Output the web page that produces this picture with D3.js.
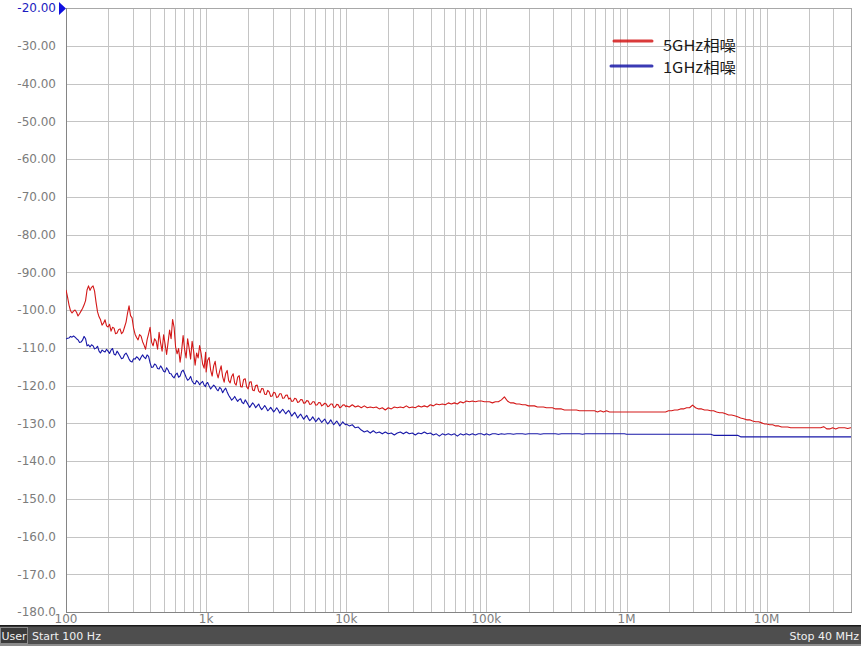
<!DOCTYPE html>
<html><head><meta charset="utf-8">
<script src="https://cdn.jsdelivr.net/npm/d3@7"></script>
<style>html,body{margin:0;padding:0;background:#fff;overflow:hidden}</style>
</head><body>
<svg id="c" width="861" height="646"></svg>
<script>
// ---- data (sweep frequencies in Hz, phase noise in dBc/Hz) ----
const freqDec0 = [100,102.5,105.1,107.7,110.4,113.2,116,118.9,121.8,124.9,
  128,131.2,134.5,137.9,141.3,144.8,148.4,152.1,156,159.9,
  163.8,167.9,172.1,176.4,180.8,185.3,190,194.7,199.5,204.5,
  209.6,214.8,220.3,225.8,231.4,237.2,243.1,249.2,255.4,261.8,
  268.3,275,281.8,288.8,296.1,303.5,311.1,318.9,326.8,335,
  343.4,352,360.7,369.7,379,388.5,398.1,408,418.3,428.8,
  439.4,450.4,461.7,473.2,485,497.1,509.6,522.3,535.3,548.7,
  562.3,576.3,590.8,605.6,620.7,636.2,652,668.3,685,702.1,
  719.7,737.7,756.1,775,794.3,814.1,834.5,855.3,876.7,898.6,
  921,944,967.6,991.8];
const freqDec1 = [1000,1025,1051,1077,1104,1132,1160,1189,1218,1249,
  1280,1312,1345,1379,1413,1448,1484,1521,1560,1599,
  1638,1679,1721,1764,1808,1853,1900,1947,1995,2045,
  2096,2148,2203,2258,2314,2372,2431,2492,2554,2618,
  2683,2750,2818,2888,2961,3035,3111,3189,3268,3350,
  3434,3520,3607,3697,3790,3885,3981,4080,4183,4288,
  4394,4504,4617,4732,4850,4971,5096,5223,5353,5487,
  5623,5763,5908,6056,6207,6362,6520,6683,6850,7021,
  7197,7377,7561,7750,7943,8141,8345,8553,8767,8986,
  9210,9440,9676,9918];
const freqDec2 = [1e4,1.051e4,1.104e4,1.160e4,1.218e4,1.280e4,1.345e4,1.413e4,1.484e4,1.560e4,1.638e4,1.721e4,1.808e4,1.900e4,1.995e4,2.096e4,2.203e4,2.314e4,2.431e4,2.554e4,2.683e4,2.818e4,2.961e4,3.111e4,3.268e4,3.434e4,3.607e4,3.790e4,3.981e4,4.183e4,4.394e4,4.617e4,4.850e4,5.096e4,5.353e4,5.623e4,5.908e4,6.207e4,6.520e4,6.850e4,7.197e4,7.561e4,7.943e4,8.345e4,8.767e4,9.210e4,9.676e4];
const freqDec3 = [1e5,1.051e5,1.104e5,1.160e5,1.218e5,1.280e5,1.345e5,1.413e5,1.484e5,1.560e5,1.638e5,1.721e5,1.808e5,1.900e5,1.995e5,2.096e5,2.203e5,2.314e5,2.431e5,2.554e5,2.683e5,2.818e5,2.961e5,3.111e5,3.268e5,3.434e5,3.607e5,3.790e5,3.981e5,4.183e5,4.394e5,4.617e5,4.850e5,5.096e5,5.353e5,5.623e5,5.908e5,6.207e5,6.520e5,6.850e5,7.197e5,7.561e5,7.943e5,8.345e5,8.767e5,9.210e5,9.676e5];
const freqDec4 = [1e6,1.051e6,1.104e6,1.160e6,1.218e6,1.280e6,1.345e6,1.413e6,1.484e6,1.560e6,1.638e6,1.721e6,1.808e6,1.900e6,1.995e6,2.096e6,2.203e6,2.314e6,2.431e6,2.554e6,2.683e6,2.818e6,2.961e6,3.111e6,3.268e6,3.434e6,3.607e6,3.790e6,3.981e6,4.183e6,4.394e6,4.617e6,4.850e6,5.096e6,5.353e6,5.623e6,5.908e6,6.207e6,6.520e6,6.850e6,7.197e6,7.561e6,7.943e6,8.345e6,8.767e6,9.210e6,9.676e6];
const freqDec5 = [1e7,1.051e7,1.104e7,1.160e7,1.218e7,1.280e7,1.345e7,1.413e7,1.484e7,1.560e7,1.638e7,1.721e7,1.808e7,1.900e7,1.995e7,2.096e7,2.203e7,2.314e7,2.431e7,2.554e7,2.683e7,2.818e7,2.961e7,3.111e7,3.268e7,3.434e7,3.607e7,3.790e7,3.981e7,4.0e7];

const noise5G = [
  // 100 Hz - 1 kHz
  -94.7,-96.5,-98.7,-100.2,-100.8,-100.3,-100.0,-100.6,-101.6,-101.0,
  -100.3,-99.6,-98.7,-97.5,-94.7,-93.6,-94.8,-94.0,-93.6,-95.0,
  -97.9,-100.5,-101.8,-102.6,-104.0,-103.5,-102.6,-104.2,-104.5,-103.8,
  -105.6,-104.6,-104.8,-106.3,-106.1,-105.2,-105.0,-106.3,-105.8,-104.5,
  -103.2,-100.8,-98.9,-101.5,-102.1,-104.8,-106.4,-107.3,-107.9,-106.5,
  -106.9,-108.4,-109.3,-110.4,-107.9,-106.3,-104.6,-108.5,-109.5,-107.6,
  -108.2,-110.4,-105.9,-108.7,-110.9,-106.6,-109.0,-111.8,-108.5,-105.3,
  -107.6,-102.5,-104.6,-109.8,-111.6,-110.2,-113.8,-110.9,-106.8,-110.4,
  -112.7,-107.6,-110.1,-113.0,-108.3,-110.9,-114.6,-111.4,-112.7,-109.4,
  -111.5,-114.3,-115.4,-111.2,
  // 1 kHz - 10 kHz
  -116.4,-113.3,-112.6,-115.9,-117.5,-114.8,-113.6,-116.6,-118.0,-116.2,
  -114.8,-117.7,-119.1,-116.8,-116.0,-118.7,-119.3,-117.6,-116.9,-119.4,
  -119.9,-117.8,-117.4,-120.3,-120.4,-118.4,-118.2,-120.4,-120.9,-119.1,
  -119.0,-121.2,-121.4,-120.0,-119.9,-121.5,-121.9,-120.8,-120.9,-122.3,
  -122.4,-121.3,-121.7,-122.9,-122.8,-121.8,-122.0,-123.2,-123.0,-122.2,
  -122.2,-123.4,-123.3,-122.6,-122.5,-123.6,-123.3,-124.2,-124.1,-123.4,
  -123.6,-124.5,-124.3,-123.7,-123.8,-124.7,-124.6,-124.0,-124.1,-125.0,
  -124.9,-124.3,-124.3,-125.2,-125.1,-124.5,-124.6,-125.4,-125.1,-124.7,
  -124.9,-125.6,-125.4,-124.9,-124.9,-125.8,-125.7,-125.0,-125.1,-125.9,
  -125.7,-125.2,-125.1,-125.6,
  // 10 kHz - 100 kHz
  -125.4,-125.7,-125.1,-125.7,-125.4,-125.9,-125.4,-125.9,-125.7,-125.9,-125.7,-126.2,-125.9,-126.5,-125.9,-126.2,-125.7,-125.9,-125.7,-125.9,-125.4,-125.9,-125.7,-125.9,-125.4,-125.7,-125.4,-125.7,-125.1,-125.4,-124.9,-125.1,-124.9,-125.1,-124.6,-124.9,-124.6,-124.9,-124.3,-124.6,-124.1,-124.3,-124.1,-124.3,-124.1,-124.1,-124.3,
  // 100 kHz - 1 MHz
  -124.3,-124.3,-124.6,-124.3,-124.3,-123.8,-123.0,-124.1,-124.6,-124.6,-124.9,-124.9,-125.1,-125.1,-125.4,-125.4,-125.4,-125.7,-125.7,-125.7,-125.9,-125.9,-125.9,-126.2,-126.2,-126.2,-126.5,-126.5,-126.5,-126.5,-126.5,-126.7,-126.7,-126.7,-126.7,-126.7,-126.7,-127.0,-126.7,-127.0,-126.7,-127.0,-127.0,-127.0,-127.0,-127.0,-127.0,
  // 1 MHz - 10 MHz
  -127.0,-127.0,-127.0,-127.0,-127.0,-127.0,-127.0,-127.0,-127.0,-127.0,-127.0,-127.0,-127.0,-127.0,-126.7,-126.7,-126.5,-126.5,-126.2,-126.2,-125.9,-125.9,-125.2,-125.9,-126.2,-126.2,-126.5,-126.5,-126.7,-126.7,-127.0,-127.2,-127.2,-127.5,-127.8,-127.8,-128.0,-128.3,-128.6,-128.8,-129.1,-129.1,-129.4,-129.6,-129.6,-129.9,-130.2,
  // 10 MHz - 40 MHz
  -130.2,-130.4,-130.4,-130.7,-130.7,-131.0,-131.0,-131.0,-131.2,-131.2,-131.2,-131.2,-131.2,-131.2,-131.2,-131.2,-131.2,-131.2,-131.2,-130.9,-131.5,-131.5,-131.2,-131.5,-131.2,-131.2,-131.2,-131.4,-131.2,-131.2
];
const noise1G = [
  // 100 Hz - 1 kHz
  -107.7,-107.5,-107.4,-107.0,-107.2,-106.9,-107.2,-107.6,-107.9,-108.6,
  -108.5,-108.0,-107.0,-107.6,-109.5,-109.2,-109.8,-109.2,-109.5,-110.3,
  -110.1,-109.6,-110.9,-111.4,-110.6,-110.9,-111.1,-110.4,-110.9,-111.5,
  -110.6,-110.2,-111.7,-111.9,-110.9,-111.5,-112.2,-112.9,-112.7,-111.8,
  -111.4,-112.1,-113.0,-113.6,-113.8,-112.9,-113.0,-112.4,-112.7,-113.3,
  -112.5,-111.9,-112.5,-112.9,-111.9,-112.3,-114.0,-115.2,-115.1,-114.3,
  -114.6,-115.5,-115.6,-114.8,-115.4,-116.2,-116.4,-115.3,-115.9,-116.8,
  -116.9,-117.6,-118.0,-117.1,-116.7,-117.8,-117.5,-116.3,-115.9,-116.8,
  -117.8,-118.6,-118.3,-117.6,-118.8,-119.4,-119.6,-118.7,-119.1,-119.8,
  -119.3,-118.9,-119.9,-120.3,
  // 1 kHz - 10 kHz
  -119.6,-119.2,-120.1,-120.9,-120.4,-119.9,-120.3,-121.0,-121.4,-120.5,
  -120.9,-121.9,-121.2,-120.7,-121.7,-122.6,-123.2,-123.9,-123.5,-122.9,
  -123.6,-124.2,-123.7,-123.5,-124.5,-124.8,-123.8,-124.4,-125.1,-125.8,
  -125.2,-124.6,-125.1,-125.9,-125.4,-124.9,-125.8,-126.4,-125.9,-125.3,
  -125.9,-126.7,-126.3,-125.8,-126.4,-127.0,-126.5,-125.9,-126.5,-127.3,
  -126.8,-126.3,-126.9,-127.5,-127.0,-126.6,-127.3,-128.1,-127.6,-127.1,
  -127.8,-128.6,-128.0,-127.6,-128.3,-128.9,-128.4,-127.9,-128.7,-129.3,
  -128.9,-128.3,-128.9,-129.6,-129.1,-128.6,-129.2,-129.8,-129.3,-128.9,
  -129.6,-130.2,-129.7,-129.1,-129.8,-130.4,-129.9,-129.4,-130.0,-130.7,
  -130.2,-129.6,-130.1,-130.4,
  // 10 kHz - 100 kHz
  -130.2,-130.7,-130.4,-131.2,-131.0,-131.8,-132.3,-132.0,-132.6,-132.0,-132.6,-132.3,-132.8,-132.3,-132.8,-132.6,-133.1,-132.6,-132.3,-132.8,-132.3,-132.8,-132.6,-133.1,-132.6,-132.8,-132.3,-132.8,-132.6,-133.1,-132.8,-133.4,-132.8,-133.1,-132.8,-133.1,-132.8,-133.4,-132.8,-133.1,-132.8,-133.1,-132.8,-133.1,-132.8,-132.8,-133.1,
  // 100 kHz - 1 MHz
  -132.8,-133.1,-132.8,-132.8,-133.0,-132.8,-132.9,-132.8,-132.8,-132.9,-132.8,-132.8,-132.8,-132.9,-132.8,-132.8,-132.8,-132.8,-132.9,-132.8,-132.8,-132.8,-132.8,-132.8,-132.9,-132.8,-132.8,-132.8,-132.8,-132.8,-132.8,-132.8,-132.9,-132.8,-132.8,-132.8,-132.8,-132.8,-132.8,-132.8,-132.8,-132.8,-132.8,-132.8,-132.8,-132.8,-132.8,
  // 1 MHz - 10 MHz
  -132.9,-132.9,-132.9,-132.9,-132.9,-132.9,-132.9,-132.9,-132.9,-132.9,-132.9,-132.9,-132.9,-132.9,-132.9,-132.9,-132.9,-132.9,-132.9,-132.9,-132.9,-132.9,-132.9,-132.9,-132.9,-132.9,-132.9,-132.9,-132.9,-133.2,-133.2,-133.2,-133.2,-133.2,-133.2,-133.2,-133.2,-133.2,-133.6,-133.6,-133.6,-133.6,-133.6,-133.6,-133.6,-133.6,-133.6,
  // 10 MHz - 40 MHz
  -133.6,-133.6,-133.6,-133.6,-133.6,-133.6,-133.6,-133.6,-133.6,-133.6,-133.6,-133.6,-133.6,-133.6,-133.6,-133.6,-133.6,-133.6,-133.6,-133.6,-133.6,-133.6,-133.6,-133.6,-133.6,-133.6,-133.6,-133.6,-133.6,-133.6
];
const seriesNames = ["5GHz相噪", "1GHz相噪"];
const seriesColors = ["#d41818", "#1818a8"];
const yTickValues = [-20,-30,-40,-50,-60,-70,-80,-90,-100,-110,-120,-130,-140,-150,-160,-170,-180];
const yTickLabels = ["-20.00","-30.00","-40.00","-50.00","-60.00","-70.00","-80.00","-90.00","-100.0","-110.0","-120.0","-130.0","-140.0","-150.0","-160.0","-170.0","-180.0"];
const xTickValues = [100,1e3,1e4,1e5,1e6,1e7];
const xTickLabels = ["100","1k","10k","100k","1M","10M"];
const gridMultipliers = [1,2,3,4,5,6,7,8,9];
const statusUser = "User", statusStart = "Start 100 Hz", statusStop = "Stop 40 MHz";

// ---- drawing ----
const freqHz = [].concat(freqDec0, freqDec1, freqDec2, freqDec3, freqDec4, freqDec5);
const L = 66, R = 851, T = 8, B = 612;
const x = d3.scaleLog().domain([100, 4e7]).range([L, R]);
const y = d3.scaleLinear().domain([-20, -180]).range([T, B]);
const svg = d3.select("#c");
const font = "'DejaVu Sans', sans-serif";

// vertical grid
const gridF = [];
xTickValues.forEach(dec => gridMultipliers.forEach(m => { const f = dec * m; if (f > 100 && f < 4e7) gridF.push(f); }));
svg.append("g").selectAll("line").data(gridF).join("line")
  .attr("x1", d => Math.round(x(d)) + 0.5).attr("x2", d => Math.round(x(d)) + 0.5)
  .attr("y1", T).attr("y2", B).attr("stroke", "#c4c4c4").attr("stroke-width", 1);
// horizontal grid
svg.append("g").selectAll("line").data(yTickValues).join("line")
  .attr("x1", L).attr("x2", R)
  .attr("y1", d => Math.round(y(d)) + 0.5).attr("y2", d => Math.round(y(d)) + 0.5)
  .attr("stroke", "#c4c4c4").attr("stroke-width", 1);
// frame
svg.append("rect").attr("x", L + 0.5).attr("y", T + 0.5).attr("width", R - L).attr("height", B - T)
  .attr("fill", "none").attr("stroke", "#a8a8a8");
svg.append("line").attr("x1", L + 0.5).attr("x2", L + 0.5).attr("y1", T).attr("y2", B + 1).attr("stroke", "#858585");
svg.append("line").attr("x1", L).attr("x2", R + 1).attr("y1", B + 0.5).attr("y2", B + 0.5).attr("stroke", "#858585");

// y labels
svg.append("g").selectAll("text").data(yTickValues).join("text")
  .attr("x", 56).attr("y", d => y(d)).attr("dy", "0.36em")
  .attr("text-anchor", "end").attr("font-family", font).attr("font-size", 12)
  .attr("fill", (d, i) => i === 0 ? "#1c1cc0" : "#7c7c7c")
  .text((d, i) => yTickLabels[i]);
// reference marker
svg.append("path").attr("d", `M59,${T - 6}L66,${T + 0.5}L59,${T + 7}Z`).attr("fill", "#1010e0");

// x labels
svg.append("g").selectAll("text").data(xTickValues).join("text")
  .attr("x", d => x(d)).attr("y", 619).attr("dy", "0.36em")
  .attr("text-anchor", "middle").attr("font-family", font).attr("font-size", 12)
  .attr("fill", "#7c7c7c").text((d, i) => xTickLabels[i]);

// traces
svg.append("clipPath").attr("id", "clip").append("rect").attr("x", L).attr("y", T).attr("width", R - L + 1).attr("height", B - T);
const line = d3.line().x(d => x(d[0])).y(d => y(d[1]));
const series = [noise5G, noise1G];
svg.append("g").attr("clip-path", "url(#clip)").selectAll("path").data(series).join("path")
  .attr("d", s => line(freqHz.map((f, i) => [f, s[i]]).filter(p => p[1] !== undefined)))
  .attr("fill", "none").attr("stroke", (d, i) => seriesColors[i]).attr("stroke-width", 1.1)
  .attr("stroke-linejoin", "round");

// legend
const legend = [{ x1: 614, x2: 652, ly: 41, ty: 45.5 }, { x1: 611, x2: 652, ly: 66, ty: 67.5 }];
const lg = svg.append("g");
legend.forEach((p, i) => {
  lg.append("line").attr("x1", p.x1).attr("x2", p.x2).attr("y1", p.ly).attr("y2", p.ly)
    .attr("stroke", seriesColors[i]).attr("stroke-width", 3).attr("stroke-linecap", "round").attr("opacity", 0.85);
  lg.append("text").attr("x", 663).attr("y", p.ty).attr("dy", "0.35em")
    .attr("font-family", "'Noto Sans CJK SC','Noto Sans',sans-serif").attr("font-size", 15)
    .attr("textLength", 73).attr("lengthAdjust", "spacingAndGlyphs")
    .attr("fill", "#1a1a1a").text(seriesNames[i]);
});

// status bar
svg.append("rect").attr("x", 0).attr("y", 625).attr("width", 861).attr("height", 21).attr("fill", "#4e4e4e");
svg.append("rect").attr("x", 0).attr("y", 625).attr("width", 861).attr("height", 1.5).attr("fill", "#1a1a1a");
svg.append("rect").attr("x", 0).attr("y", 644).attr("width", 861).attr("height", 2).attr("fill", "#8c8c8c");
svg.append("rect").attr("x", 0.5).attr("y", 627.5).attr("width", 27).attr("height", 16).attr("fill", "#3a3a3a").attr("stroke", "#8a8a8a");
svg.append("text").attr("x", 14).attr("y", 636).attr("dy", "0.36em").attr("text-anchor", "middle")
  .attr("font-family", font).attr("font-size", 11).attr("fill", "#f0f0f0").text(statusUser);
svg.append("text").attr("x", 32).attr("y", 636).attr("dy", "0.36em")
  .attr("font-family", font).attr("font-size", 11).attr("fill", "#f0f0f0").text(statusStart);
svg.append("text").attr("x", 859).attr("y", 636).attr("dy", "0.36em").attr("text-anchor", "end")
  .attr("font-family", font).attr("font-size", 11).attr("fill", "#f0f0f0").text(statusStop);
</script>
</body></html>
